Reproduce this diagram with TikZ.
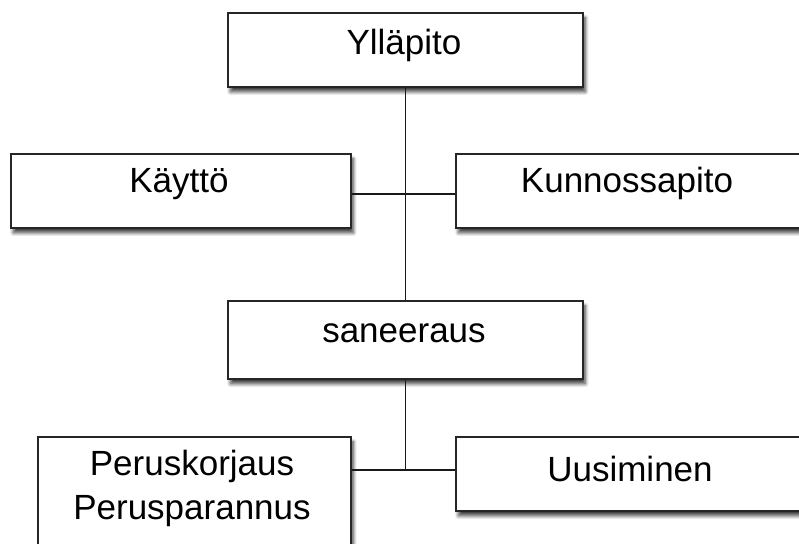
\documentclass[tikz,border=0pt]{standalone}
\usepackage{fontspec}
\setmainfont{Liberation Sans}
\usetikzlibrary{shadows.blur}
\begin{document}
\begin{tikzpicture}[x=1bp,y=-1bp,
  box/.style={draw=black!85, line width=1.7bp, fill=white, rectangle, inner sep=0pt,
    blur shadow={shadow xshift=2.5bp, shadow yshift=-5bp, shadow blur radius=3.5bp,
      shadow blur steps=8, shadow opacity=75}},
  lbl/.style={anchor=base, inner sep=0pt, text=black,
    font=\fontsize{35bp}{44bp}\selectfont, align=center},
  link/.style={draw=black!90, line width=1.4bp}]
\useasboundingbox (0,0) rectangle (799,544);
% boxes (top-left corner, size)
\node[box, minimum width=355bp, minimum height=74bp, anchor=north west] (yp) at (227,12) {};
\node[box, minimum width=340bp, minimum height=74bp, anchor=north west] (ka) at (10,153) {};
\node[box, minimum width=348bp, minimum height=74bp, anchor=north west] (ku) at (455,153) {};
\node[box, minimum width=355bp, minimum height=78bp, anchor=north west] (sa) at (227,300) {};
\node[box, minimum width=313bp, minimum height=118bp, anchor=north west] (pk) at (37,436) {};
\node[box, minimum width=348bp, minimum height=74bp, anchor=north west] (uu) at (455,436) {};
% labels
\node[lbl] (typ) at (404,55) {Ylläpito};
\node[lbl] (tka) at (179,193) {Käyttö};
\node[lbl] (tku) at (627,193) {Kunnossapito};
\node[lbl] (tsa) at (404,342) {saneeraus};
\node[lbl, anchor=north] (tpk) at (192,450) {Peruskorjaus\\Perusparannus};
\node[lbl] (tuu) at (630,481) {Uusiminen};
% connectors
\coordinate (j1) at ([yshift=-3bp]ku.west);
\coordinate (j2) at ([yshift=4bp]uu.west);
\draw[link] (yp.south) -- (yp.south |- sa.north);
\draw[link] (ka.east |- j1) -- (j1);
\draw[link] (sa.south) -- (sa.south |- j2);
\draw[link] (pk.east |- j2) -- (j2);
\end{tikzpicture}
\end{document}
